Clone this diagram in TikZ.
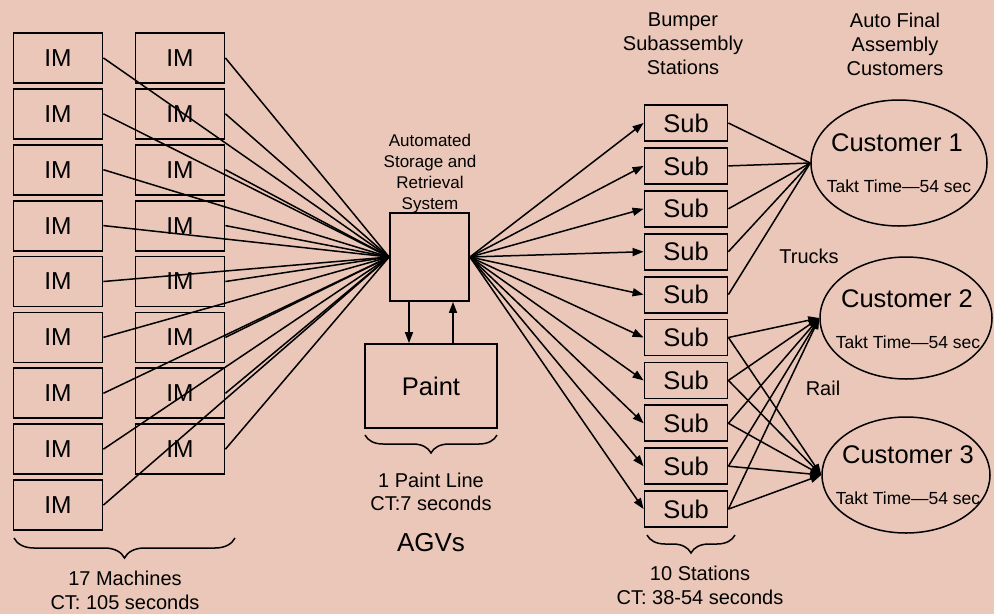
\documentclass[tikz,border=0pt]{standalone}
\usepackage{fontspec}
\setmainfont{Liberation Sans}
\usetikzlibrary{shapes.geometric,decorations.pathreplacing,arrows.meta}
\definecolor{bg}{RGB}{234,199,184}

\begin{document}
\begin{tikzpicture}[x=1pt,y=-1pt,
	imbox/.style={draw,line width=1.8pt,minimum width=89pt,minimum height=50pt,inner sep=0pt,font=\fontsize{24.5}{24.5}\selectfont},
	subbox/.style={draw,line width=1.8pt,minimum width=83pt,minimum height=36pt,inner sep=0pt,font=\fontsize{25.5}{25.5}\selectfont},
	cust/.style={draw,ellipse,line width=1.5pt,inner sep=0pt},
	link/.style={line width=1.5pt},
	arr/.style={line width=1.5pt,-{Triangle[length=11pt,width=8pt]}},
	brc/.style={decorate,line width=1.5pt,decoration={brace,mirror,amplitude=#1}},
	lbl/.style={align=center,inner sep=0pt,font=\fontsize{20}{24}\selectfont}]
	\fill[bg] (0,0) rectangle (994,614);
	\useasboundingbox (0,0) rectangle (994,614);
	% injection moulding machines
	\foreach \i in {1,...,9}
		\node[imbox] (ima\i) at (58,2+55.9*\i) {IM};
	\foreach \i in {1,...,8}
		\node[imbox] (imb\i) at (180,2+55.9*\i) {IM};
	% storage and paint
	\node[draw,line width=1.8pt,minimum width=79pt,minimum height=88pt] (asrs) at (429.5,257) {};
	\node[lbl,font=\fontsize{17}{21}\selectfont] (asrslbl) at (430,174) {Automated\\Storage and\\Retrieval\\System};
	\node[draw,line width=1.8pt,minimum width=132pt,minimum height=84pt,font=\fontsize{25.5}{25.5}\selectfont] (paint) at (431,386) {Paint};
	\draw[arr] ([xshift=-20.5pt]asrs.south) -- ([xshift=-22pt]paint.north);
	\draw[arr] ([xshift=22pt]paint.north) -- ([xshift=23.5pt]asrs.south);
	\foreach \i in {1,...,9}
		\draw[link] (ima\i.east) -- (asrs.west);
	\foreach \i in {1,...,8}
		\draw[link] (imb\i.east) -- (asrs.west);
	% subassembly stations
	\foreach \i in {1,...,10} {
		\node[subbox] (sub\i) at (686,80.1+42.9*\i) {Sub};
		\draw[arr] (asrs.east) -- (sub\i.west);
	}
	% customers
	\node[cust,minimum width=176pt,minimum height=126pt] (cust1) at (899,163) {};
	\node[cust,minimum width=172pt,minimum height=122pt] (cust2) at (906,318) {};
	\node[cust,minimum width=168pt,minimum height=116pt] (cust3) at (906,475) {};
	\node[font=\fontsize{25.5}{25.5}\selectfont] (cname1) at (897,143) {Customer 1};
	\node[font=\fontsize{25.5}{25.5}\selectfont] (cname2) at (907,299) {Customer 2};
	\node[font=\fontsize{25.5}{25.5}\selectfont] (cname3) at (908,455) {Customer 3};
	\node[font=\fontsize{17.5}{17.5}\selectfont] (takt1) at (899,186) {Takt Time—54 sec};
	\node[font=\fontsize{17.5}{17.5}\selectfont] (takt2) at (908,342) {Takt Time—54 sec};
	\node[font=\fontsize{17.5}{17.5}\selectfont] (takt3) at (908,498) {Takt Time—54 sec};
	\foreach \i in {1,...,5}
		\draw[link] (sub\i.east) -- (cust1.west);
	\foreach \i in {6,...,10} {
		\draw[arr] (sub\i.east) -- (cust2.west);
		\draw[arr] (sub\i.east) -- (cust3.west);
	}
	\node[lbl] (trucks) at (809,256) {Trucks};
	\node[lbl] (rail) at (823,388) {Rail};
	% headings
	\node[lbl] (subhead) at (683,44) {Bumper\\Subassembly\\Stations};
	\node[lbl] (custhead) at (895,44) {Auto Final\\Assembly\\Customers};
	% braces and counts
	\coordinate (imL) at (14,538);
	\coordinate (imR) at (235,538);
	\coordinate (paintL) at (365,435);
	\coordinate (paintR) at (497,435);
	\coordinate (subL) at (647,535);
	\coordinate (subR) at (735,535);
	\draw[brc=20pt] (imL) -- (imR);
	\draw[brc=18pt] (paintL) -- (paintR);
	\draw[brc=18pt] (subL) -- (subR);
	\node[lbl] (imcount) at (125,590) {17 Machines\\CT: 105 seconds};
	\node[lbl,font=\fontsize{20}{23}\selectfont] (paintcount) at (431,491.5) {1 Paint Line\\CT:7 seconds};
	\node[font=\fontsize{26}{26}\selectfont] (agv) at (431,543) {AGVs};
	\node[lbl] (subcount) at (700,585.5) {10 Stations\\CT: 38-54 seconds};
\end{tikzpicture}
\end{document}
